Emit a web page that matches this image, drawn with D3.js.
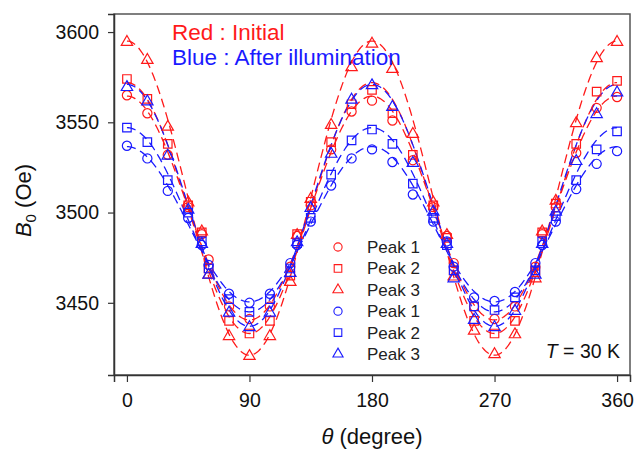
<!DOCTYPE html>
<html>
<head>
<meta charset="utf-8">
<script src="https://cdn.jsdelivr.net/npm/d3@7"></script>
<style>
  body { margin: 0; background: #fff; }
  text { font-family: "Liberation Sans", Arial, sans-serif; }
</style>
</head>
<body>
<div id="container"></div>
<script>
//svg size
const w = 635
const h = 451
const margin = { top: 14, right: 5, bottom: 76, left: 114 }

//angles (degree)
const angles = [0, 15, 30, 45, 55, 60, 75, 90, 105, 120, 125, 135, 150, 165, 180,
  195, 210, 225, 235, 240, 255, 270, 285, 300, 305, 315, 330, 345, 360]

//red : initial
const redPeak1 = [3565, 3555, 3532, 3503, 3488, 3474, 3448, 3441, 3448, 3470, 3487, 3504, 3535, 3556, 3562,
  3551, 3529, 3503, 3487, 3472, 3448, 3441, 3448, 3470, 3488, 3503, 3533, 3558, 3564]
const redPeak2 = [3574, 3563, 3538, 3504, 3489, 3469, 3440, 3433, 3440, 3465, 3488, 3506, 3539, 3560, 3568,
  3555, 3532, 3504, 3486, 3468, 3440, 3433, 3440, 3467, 3489, 3505, 3538, 3567, 3573]
const redPeak3 = [3595, 3585, 3548, 3506, 3490, 3466, 3432, 3421, 3432, 3462, 3488, 3508, 3549, 3581, 3594,
  3580, 3544, 3506, 3488, 3465, 3435, 3422, 3433, 3464, 3490, 3507, 3550, 3586, 3595]

//blue : after illumination
const bluePeak1 = [3537, 3530, 3512, 3497, 3482, 3471, 3455, 3450, 3455, 3472, 3482, 3495, 3515, 3530, 3535,
  3528, 3510, 3495, 3484, 3470, 3453, 3451, 3456, 3472, 3482, 3495, 3513, 3527, 3534]
const bluePeak2 = [3547, 3539, 3518, 3500, 3484, 3469, 3452, 3445, 3452, 3469, 3483, 3497, 3521, 3540, 3546,
  3538, 3516, 3497, 3482, 3468, 3448, 3446, 3453, 3468, 3484, 3498, 3518, 3535, 3545]
const bluePeak3 = [3570, 3562, 3532, 3502, 3483, 3466, 3445, 3437, 3445, 3467, 3484, 3503, 3533, 3563, 3571,
  3559, 3528, 3501, 3483, 3464, 3441, 3437, 3446, 3466, 3483, 3501, 3529, 3555, 3567]

//fit curves B0 = mid + amp * cos(2 theta)
const fitMid = [3502.5, 3502.5, 3508, 3493.5, 3496, 3504]
const fitAmp = [62, 69.5, 87, 43, 51, 67]

const seriesNames = ['Peak 1', 'Peak 2', 'Peak 3', 'Peak 1', 'Peak 2', 'Peak 3']
const seriesValues = [redPeak1, redPeak2, redPeak3, bluePeak1, bluePeak2, bluePeak3]
const seriesColors = ['#ff1a1a', '#ff1a1a', '#ff1a1a', '#1a1aff', '#1a1aff', '#1a1aff']
const seriesSymbols = [d3.symbolCircle, d3.symbolSquare, d3.symbolTriangle,
  d3.symbolCircle, d3.symbolSquare, d3.symbolTriangle]
const symbolSizes = [66, 72, 56, 66, 72, 56]

const xTicks = [0, 90, 180, 270, 360]
const yTicks = [3450, 3500, 3550, 3600]

const iw = w - margin.left - margin.right
const ih = h - margin.top - margin.bottom

const x = d3.scaleLinear().domain([-9.5, 369.5]).range([0, iw])
const y = d3.scaleLinear().domain([3410, 3610]).range([ih, 0])

const svg = d3.select('#container')
  .append('svg')
  .attr('width', w)
  .attr('height', h)

const g = svg.append('g')
  .attr('transform', 'translate(' + margin.left + ',' + margin.top + ')')

//fit lines
const line = d3.line()
  .x(function(d) { return x(d[0]) })
  .y(function(d) { return y(d[1]) })

const fine = d3.range(0, 360.5, 1)
seriesValues.forEach(function(vals, i) {
  const pts = fine.map(function(t) {
    return [t, fitMid[i] + fitAmp[i] * Math.cos(2 * t * Math.PI / 180)]
  })
  g.append('path')
    .attr('d', line(pts))
    .attr('fill', 'none')
    .attr('stroke', seriesColors[i])
    .attr('stroke-width', 1.3)
    .attr('stroke-dasharray', '9,5')
})

//markers
seriesValues.forEach(function(vals, i) {
  const sym = d3.symbol().type(seriesSymbols[i]).size(symbolSizes[i])
  g.append('g').selectAll('path')
    .data(vals)
    .enter()
    .append('path')
    .attr('d', sym)
    .attr('transform', function(d, j) {
      const dy = seriesSymbols[i] === d3.symbolTriangle ? 1 : 0
      return 'translate(' + x(angles[j]) + ',' + (y(d) + dy) + ')'
    })
    .attr('fill', 'none')
    .attr('stroke', seriesColors[i])
    .attr('stroke-width', 1.2)
})

//frame
g.append('rect')
  .attr('width', iw)
  .attr('height', ih)
  .attr('fill', 'none')
  .attr('stroke', '#555')
  .attr('stroke-width', 1.5)

//axes
const xAxis = g.append('g')
  .attr('transform', 'translate(0,' + ih + ')')
  .call(d3.axisBottom(x).tickValues(xTicks).tickSize(7).tickPadding(11).tickFormat(d3.format('d')))
const yAxis = g.append('g')
  .call(d3.axisLeft(y).tickValues(yTicks).tickSize(6).tickPadding(9).tickFormat(d3.format('d')))

;[xAxis, yAxis].forEach(function(a) {
  a.select('.domain').attr('stroke', '#333').attr('stroke-width', 1.5)
  a.selectAll('.tick line').attr('stroke', '#333').attr('stroke-width', 1.2)
  a.selectAll('.tick text')
    .attr('fill', '#111')
    .style('font-size', '19.5px')
    .style('font-family', '"Liberation Sans", Arial, sans-serif')
})

//axis titles
svg.append('text')
  .attr('transform', 'translate(31,' + (margin.top + ih / 2 + 6) + ') rotate(-90)')
  .attr('text-anchor', 'middle')
  .attr('fill', '#111')
  .style('font-size', '22px')
  .html('<tspan font-style="italic">B</tspan><tspan font-size="15px" dy="5">0</tspan><tspan dy="-5"> (Oe)</tspan>')

svg.append('text')
  .attr('x', margin.left + iw / 2)
  .attr('y', 444)
  .attr('text-anchor', 'middle')
  .attr('fill', '#111')
  .style('font-size', '22px')
  .html('<tspan font-style="italic">θ</tspan> (degree)')

//annotation
g.append('text')
  .attr('x', 58)
  .attr('y', 26)
  .attr('fill', '#ff1a1a')
  .style('font-size', '22.5px')
  .text('Red : Initial')
g.append('text')
  .attr('x', 58)
  .attr('y', 51)
  .attr('fill', '#1a1aff')
  .style('font-size', '22.5px')
  .text('Blue : After illumination')

g.append('text')
  .attr('x', iw - 10)
  .attr('y', 344)
  .attr('text-anchor', 'end')
  .attr('fill', '#111')
  .style('font-size', '19.5px')
  .html('<tspan font-style="italic">T</tspan> = 30 K')

//legend
const legend = g.append('g')
  .attr('transform', 'translate(224,233)')
const rows = legend.selectAll('g')
  .data(seriesNames)
  .enter()
  .append('g')
  .attr('transform', function(d, i) { return 'translate(0,' + (i * 21.4) + ')' })
rows.append('path')
  .attr('d', function(d, i) { return d3.symbol().type(seriesSymbols[i]).size(symbolSizes[i] * 0.8)() })
  .attr('fill', 'none')
  .attr('stroke', function(d, i) { return seriesColors[i] })
  .attr('stroke-width', 1.1)
rows.append('text')
  .attr('x', 29)
  .attr('y', 6)
  .attr('fill', '#222')
  .style('font-size', '17px')
  .text(function(d) { return d })
</script>
</body>
</html>
